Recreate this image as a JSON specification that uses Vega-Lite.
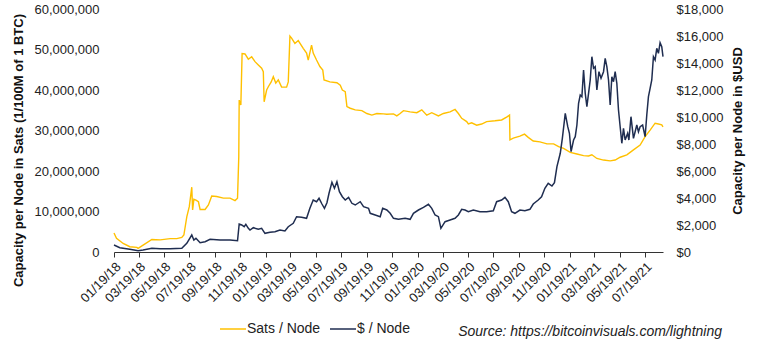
{
  "$schema": "https://vega.github.io/schema/vega-lite/v6.json",
  "width": 549,
  "height": 243,
  "autosize": {"type": "none"},
  "padding": {"left": 114, "top": 9, "right": 97, "bottom": 97},
  "background": "white",
  "config": {
    "font": "Liberation Sans",
    "view": {"stroke": null},
    "axis": {"grid": false, "labelColor": "#222222", "titleColor": "#111111", "labelFont": "Liberation Sans", "titleFont": "Liberation Sans"}
  },
  "title": {
    "text": "Source: https://bitcoinvisuals.com/lightning",
    "orient": "bottom",
    "anchor": "end",
    "frame": "group",
    "dx": 59,
    "offset": -11,
    "fontSize": 14,
    "fontStyle": "italic",
    "fontWeight": "normal",
    "color": "#222222",
    "font": "Liberation Sans"
  },
  "datasets": {
    "sats": [
      {"date": "2018-01-19", "sats": 4700000},
      {"date": "2018-01-25", "sats": 3400000},
      {"date": "2018-02-10", "sats": 2100000},
      {"date": "2018-02-26", "sats": 1300000},
      {"date": "2018-03-15", "sats": 1150000},
      {"date": "2018-03-18", "sats": 900000},
      {"date": "2018-03-30", "sats": 1700000},
      {"date": "2018-04-20", "sats": 3100000},
      {"date": "2018-05-10", "sats": 3000000},
      {"date": "2018-06-03", "sats": 3300000},
      {"date": "2018-06-19", "sats": 3300000},
      {"date": "2018-07-01", "sats": 3600000},
      {"date": "2018-07-06", "sats": 4200000},
      {"date": "2018-07-13", "sats": 8700000},
      {"date": "2018-07-19", "sats": 11200000},
      {"date": "2018-07-25", "sats": 16000000},
      {"date": "2018-07-27", "sats": 10400000},
      {"date": "2018-07-30", "sats": 13000000},
      {"date": "2018-08-04", "sats": 12800000},
      {"date": "2018-08-10", "sats": 12400000},
      {"date": "2018-08-14", "sats": 10500000},
      {"date": "2018-08-26", "sats": 10500000},
      {"date": "2018-09-03", "sats": 11600000},
      {"date": "2018-09-11", "sats": 13800000},
      {"date": "2018-09-23", "sats": 13700000},
      {"date": "2018-10-09", "sats": 13300000},
      {"date": "2018-10-25", "sats": 13300000},
      {"date": "2018-11-06", "sats": 12700000},
      {"date": "2018-11-12", "sats": 13300000},
      {"date": "2018-11-15", "sats": 23500000},
      {"date": "2018-11-16", "sats": 37500000},
      {"date": "2018-11-20", "sats": 36300000},
      {"date": "2018-11-23", "sats": 49000000},
      {"date": "2018-11-30", "sats": 48900000},
      {"date": "2018-12-08", "sats": 47600000},
      {"date": "2018-12-16", "sats": 48200000},
      {"date": "2018-12-24", "sats": 47000000},
      {"date": "2019-01-01", "sats": 46200000},
      {"date": "2019-01-09", "sats": 45400000},
      {"date": "2019-01-13", "sats": 44500000},
      {"date": "2019-01-15", "sats": 37100000},
      {"date": "2019-01-21", "sats": 40000000},
      {"date": "2019-01-25", "sats": 40800000},
      {"date": "2019-02-01", "sats": 42000000},
      {"date": "2019-02-06", "sats": 43300000},
      {"date": "2019-02-12", "sats": 41700000},
      {"date": "2019-02-18", "sats": 42500000},
      {"date": "2019-02-26", "sats": 40700000},
      {"date": "2019-03-10", "sats": 40700000},
      {"date": "2019-03-14", "sats": 42000000},
      {"date": "2019-03-18", "sats": 53300000},
      {"date": "2019-03-22", "sats": 52800000},
      {"date": "2019-03-30", "sats": 51500000},
      {"date": "2019-04-07", "sats": 52200000},
      {"date": "2019-04-19", "sats": 50300000},
      {"date": "2019-04-27", "sats": 49100000},
      {"date": "2019-05-01", "sats": 47400000},
      {"date": "2019-05-09", "sats": 51100000},
      {"date": "2019-05-13", "sats": 49100000},
      {"date": "2019-05-21", "sats": 47400000},
      {"date": "2019-05-29", "sats": 45800000},
      {"date": "2019-06-05", "sats": 44900000},
      {"date": "2019-06-08", "sats": 42500000},
      {"date": "2019-06-22", "sats": 42000000},
      {"date": "2019-07-09", "sats": 41800000},
      {"date": "2019-07-17", "sats": 41200000},
      {"date": "2019-07-22", "sats": 40000000},
      {"date": "2019-07-29", "sats": 39600000},
      {"date": "2019-08-02", "sats": 35900000},
      {"date": "2019-08-10", "sats": 35500000},
      {"date": "2019-08-22", "sats": 35100000},
      {"date": "2019-09-07", "sats": 34900000},
      {"date": "2019-09-19", "sats": 34200000},
      {"date": "2019-10-01", "sats": 33800000},
      {"date": "2019-10-13", "sats": 34200000},
      {"date": "2019-10-29", "sats": 34100000},
      {"date": "2019-11-06", "sats": 34000000},
      {"date": "2019-11-22", "sats": 34100000},
      {"date": "2019-11-30", "sats": 33600000},
      {"date": "2019-12-08", "sats": 34200000},
      {"date": "2019-12-16", "sats": 34900000},
      {"date": "2020-01-01", "sats": 34600000},
      {"date": "2020-01-17", "sats": 34400000},
      {"date": "2020-01-29", "sats": 35100000},
      {"date": "2020-02-10", "sats": 33800000},
      {"date": "2020-02-22", "sats": 34400000},
      {"date": "2020-03-09", "sats": 33600000},
      {"date": "2020-03-21", "sats": 34200000},
      {"date": "2020-04-06", "sats": 34600000},
      {"date": "2020-04-18", "sats": 35200000},
      {"date": "2020-04-26", "sats": 34200000},
      {"date": "2020-05-04", "sats": 33000000},
      {"date": "2020-05-16", "sats": 32200000},
      {"date": "2020-05-20", "sats": 31600000},
      {"date": "2020-05-28", "sats": 31900000},
      {"date": "2020-06-09", "sats": 31300000},
      {"date": "2020-06-21", "sats": 31600000},
      {"date": "2020-07-03", "sats": 32200000},
      {"date": "2020-07-23", "sats": 32400000},
      {"date": "2020-08-08", "sats": 32600000},
      {"date": "2020-08-20", "sats": 33300000},
      {"date": "2020-08-27", "sats": 33800000},
      {"date": "2020-08-28", "sats": 27700000},
      {"date": "2020-09-05", "sats": 28100000},
      {"date": "2020-09-21", "sats": 28600000},
      {"date": "2020-10-02", "sats": 29100000},
      {"date": "2020-10-11", "sats": 28300000},
      {"date": "2020-10-23", "sats": 27400000},
      {"date": "2020-11-08", "sats": 27200000},
      {"date": "2020-11-25", "sats": 26700000},
      {"date": "2020-12-11", "sats": 26700000},
      {"date": "2020-12-23", "sats": 26000000},
      {"date": "2021-01-04", "sats": 25600000},
      {"date": "2021-01-20", "sats": 24600000},
      {"date": "2021-02-05", "sats": 24200000},
      {"date": "2021-02-21", "sats": 23800000},
      {"date": "2021-03-05", "sats": 23700000},
      {"date": "2021-03-13", "sats": 24000000},
      {"date": "2021-03-25", "sats": 23100000},
      {"date": "2021-04-10", "sats": 22700000},
      {"date": "2021-04-26", "sats": 22500000},
      {"date": "2021-05-08", "sats": 22700000},
      {"date": "2021-05-20", "sats": 23400000},
      {"date": "2021-06-05", "sats": 24000000},
      {"date": "2021-06-21", "sats": 25200000},
      {"date": "2021-07-07", "sats": 26400000},
      {"date": "2021-07-19", "sats": 28500000},
      {"date": "2021-07-31", "sats": 30100000},
      {"date": "2021-08-12", "sats": 31800000},
      {"date": "2021-08-20", "sats": 31600000},
      {"date": "2021-08-28", "sats": 31400000},
      {"date": "2021-08-31", "sats": 30900000}
    ],
    "usd": [
      {"date": "2018-01-19", "usd": 519},
      {"date": "2018-02-02", "usd": 319},
      {"date": "2018-02-26", "usd": 200},
      {"date": "2018-03-18", "usd": 96},
      {"date": "2018-03-30", "usd": 148},
      {"date": "2018-04-20", "usd": 274},
      {"date": "2018-05-10", "usd": 244},
      {"date": "2018-06-03", "usd": 244},
      {"date": "2018-07-01", "usd": 274},
      {"date": "2018-07-13", "usd": 644},
      {"date": "2018-07-25", "usd": 1259},
      {"date": "2018-07-30", "usd": 889},
      {"date": "2018-08-04", "usd": 1015},
      {"date": "2018-08-14", "usd": 689},
      {"date": "2018-08-26", "usd": 763},
      {"date": "2018-09-07", "usd": 941},
      {"date": "2018-10-01", "usd": 889},
      {"date": "2018-10-25", "usd": 889},
      {"date": "2018-11-12", "usd": 837},
      {"date": "2018-11-16", "usd": 2074},
      {"date": "2018-11-22", "usd": 2000},
      {"date": "2018-11-28", "usd": 1874},
      {"date": "2018-12-02", "usd": 2052},
      {"date": "2018-12-08", "usd": 1755},
      {"date": "2018-12-12", "usd": 1630},
      {"date": "2018-12-20", "usd": 1800},
      {"date": "2019-01-01", "usd": 1681},
      {"date": "2019-01-09", "usd": 1755},
      {"date": "2019-01-17", "usd": 1385},
      {"date": "2019-01-29", "usd": 1459},
      {"date": "2019-02-10", "usd": 1504},
      {"date": "2019-02-22", "usd": 1630},
      {"date": "2019-03-06", "usd": 1556},
      {"date": "2019-03-14", "usd": 1874},
      {"date": "2019-03-26", "usd": 2126},
      {"date": "2019-04-03", "usd": 2615},
      {"date": "2019-04-15", "usd": 2570},
      {"date": "2019-04-27", "usd": 2496},
      {"date": "2019-05-05", "usd": 3237},
      {"date": "2019-05-13", "usd": 3852},
      {"date": "2019-05-21", "usd": 3726},
      {"date": "2019-05-27", "usd": 3978},
      {"date": "2019-06-03", "usd": 3555},
      {"date": "2019-06-09", "usd": 3237},
      {"date": "2019-06-15", "usd": 3652},
      {"date": "2019-06-20", "usd": 4348},
      {"date": "2019-06-27", "usd": 5163},
      {"date": "2019-07-03", "usd": 4719},
      {"date": "2019-07-09", "usd": 5207},
      {"date": "2019-07-15", "usd": 4467},
      {"date": "2019-07-22", "usd": 4096},
      {"date": "2019-07-29", "usd": 3852},
      {"date": "2019-08-06", "usd": 4052},
      {"date": "2019-08-14", "usd": 3607},
      {"date": "2019-08-22", "usd": 3481},
      {"date": "2019-09-03", "usd": 3726},
      {"date": "2019-09-11", "usd": 3355},
      {"date": "2019-09-23", "usd": 3237},
      {"date": "2019-09-27", "usd": 2867},
      {"date": "2019-10-09", "usd": 2741},
      {"date": "2019-10-21", "usd": 2615},
      {"date": "2019-10-27", "usd": 3237},
      {"date": "2019-11-06", "usd": 3111},
      {"date": "2019-11-14", "usd": 2867},
      {"date": "2019-11-22", "usd": 2496},
      {"date": "2019-12-04", "usd": 2422},
      {"date": "2019-12-20", "usd": 2496},
      {"date": "2020-01-01", "usd": 2422},
      {"date": "2020-01-09", "usd": 2867},
      {"date": "2020-01-21", "usd": 3111},
      {"date": "2020-02-02", "usd": 3311},
      {"date": "2020-02-14", "usd": 3533},
      {"date": "2020-02-22", "usd": 3237},
      {"date": "2020-03-01", "usd": 2741},
      {"date": "2020-03-09", "usd": 2615},
      {"date": "2020-03-15", "usd": 1755},
      {"date": "2020-03-25", "usd": 2244},
      {"date": "2020-04-06", "usd": 2370},
      {"date": "2020-04-18", "usd": 2496},
      {"date": "2020-04-26", "usd": 2741},
      {"date": "2020-05-04", "usd": 3163},
      {"date": "2020-05-12", "usd": 3111},
      {"date": "2020-05-20", "usd": 2985},
      {"date": "2020-06-01", "usd": 3111},
      {"date": "2020-06-17", "usd": 2985},
      {"date": "2020-07-03", "usd": 2985},
      {"date": "2020-07-19", "usd": 3059},
      {"date": "2020-07-27", "usd": 3726},
      {"date": "2020-08-08", "usd": 3852},
      {"date": "2020-08-16", "usd": 4052},
      {"date": "2020-08-24", "usd": 3726},
      {"date": "2020-09-01", "usd": 2985},
      {"date": "2020-09-09", "usd": 2867},
      {"date": "2020-09-21", "usd": 3111},
      {"date": "2020-10-03", "usd": 3059},
      {"date": "2020-10-15", "usd": 3163},
      {"date": "2020-10-23", "usd": 3555},
      {"date": "2020-11-04", "usd": 3852},
      {"date": "2020-11-12", "usd": 4096},
      {"date": "2020-11-20", "usd": 4719},
      {"date": "2020-11-28", "usd": 5089},
      {"date": "2020-12-07", "usd": 4889},
      {"date": "2020-12-13", "usd": 5133},
      {"date": "2020-12-19", "usd": 6319},
      {"date": "2020-12-27", "usd": 7311},
      {"date": "2021-01-01", "usd": 8422},
      {"date": "2021-01-08", "usd": 10274},
      {"date": "2021-01-14", "usd": 9281},
      {"date": "2021-01-18", "usd": 8793},
      {"date": "2021-01-22", "usd": 7430},
      {"date": "2021-01-28", "usd": 8296},
      {"date": "2021-02-01", "usd": 8541},
      {"date": "2021-02-05", "usd": 9407},
      {"date": "2021-02-09", "usd": 11015},
      {"date": "2021-02-13", "usd": 11630},
      {"date": "2021-02-17", "usd": 11504},
      {"date": "2021-02-21", "usd": 13481},
      {"date": "2021-02-25", "usd": 11756},
      {"date": "2021-03-01", "usd": 10763},
      {"date": "2021-03-05", "usd": 11756},
      {"date": "2021-03-09", "usd": 12741},
      {"date": "2021-03-13", "usd": 14467},
      {"date": "2021-03-17", "usd": 13607},
      {"date": "2021-03-21", "usd": 13726},
      {"date": "2021-03-25", "usd": 12000},
      {"date": "2021-03-30", "usd": 13356},
      {"date": "2021-04-04", "usd": 12866},
      {"date": "2021-04-10", "usd": 13356},
      {"date": "2021-04-14", "usd": 14348},
      {"date": "2021-04-18", "usd": 13726},
      {"date": "2021-04-22", "usd": 12741},
      {"date": "2021-04-26", "usd": 10889},
      {"date": "2021-04-30", "usd": 12985},
      {"date": "2021-05-04", "usd": 12615},
      {"date": "2021-05-08", "usd": 13356},
      {"date": "2021-05-12", "usd": 12496},
      {"date": "2021-05-16", "usd": 10518},
      {"date": "2021-05-20", "usd": 9281},
      {"date": "2021-05-24", "usd": 8052},
      {"date": "2021-05-28", "usd": 9163},
      {"date": "2021-06-01", "usd": 8296},
      {"date": "2021-06-07", "usd": 8793},
      {"date": "2021-06-10", "usd": 8296},
      {"date": "2021-06-15", "usd": 10022},
      {"date": "2021-06-21", "usd": 8422},
      {"date": "2021-06-25", "usd": 8911},
      {"date": "2021-06-29", "usd": 9407},
      {"date": "2021-07-03", "usd": 8911},
      {"date": "2021-07-07", "usd": 9281},
      {"date": "2021-07-13", "usd": 9407},
      {"date": "2021-07-19", "usd": 8541},
      {"date": "2021-07-23", "usd": 10148},
      {"date": "2021-07-27", "usd": 11504},
      {"date": "2021-07-31", "usd": 12126},
      {"date": "2021-08-04", "usd": 12741},
      {"date": "2021-08-08", "usd": 14467},
      {"date": "2021-08-12", "usd": 14222},
      {"date": "2021-08-16", "usd": 15089},
      {"date": "2021-08-20", "usd": 14719},
      {"date": "2021-08-24", "usd": 15504},
      {"date": "2021-08-28", "usd": 15207},
      {"date": "2021-08-31", "usd": 14467}
    ]
  },
  "encoding": {
    "x": {
      "field": "date",
      "type": "temporal",
      "scale": {
        "type": "utc",
        "domain": [
          {"year": 2018, "month": 1, "date": 19, "utc": true},
          {"year": 2021, "month": 8, "date": 31, "utc": true}
        ]
      },
      "axis": {
        "title": null,
        "format": "%m/%d/%y",
        "labelAngle": -45,
        "labelFontSize": 13,
        "labelPadding": 3,
        "tickSize": 5,
        "tickColor": "#333333",
        "domainColor": "#333333",
        "labelOverlap": false,
        "values": [
          {"year": 2018, "month": 1, "date": 19, "utc": true},
          {"year": 2018, "month": 3, "date": 19, "utc": true},
          {"year": 2018, "month": 5, "date": 19, "utc": true},
          {"year": 2018, "month": 7, "date": 19, "utc": true},
          {"year": 2018, "month": 9, "date": 19, "utc": true},
          {"year": 2018, "month": 11, "date": 19, "utc": true},
          {"year": 2019, "month": 1, "date": 19, "utc": true},
          {"year": 2019, "month": 3, "date": 19, "utc": true},
          {"year": 2019, "month": 5, "date": 19, "utc": true},
          {"year": 2019, "month": 7, "date": 19, "utc": true},
          {"year": 2019, "month": 9, "date": 19, "utc": true},
          {"year": 2019, "month": 11, "date": 19, "utc": true},
          {"year": 2020, "month": 1, "date": 19, "utc": true},
          {"year": 2020, "month": 3, "date": 19, "utc": true},
          {"year": 2020, "month": 5, "date": 19, "utc": true},
          {"year": 2020, "month": 7, "date": 19, "utc": true},
          {"year": 2020, "month": 9, "date": 19, "utc": true},
          {"year": 2020, "month": 11, "date": 19, "utc": true},
          {"year": 2021, "month": 1, "date": 19, "utc": true},
          {"year": 2021, "month": 3, "date": 19, "utc": true},
          {"year": 2021, "month": 5, "date": 19, "utc": true},
          {"year": 2021, "month": 7, "date": 19, "utc": true}
        ]
      }
    }
  },
  "layer": [
    {
      "data": {"name": "sats"},
      "mark": {"type": "line", "strokeWidth": 1.4},
      "encoding": {
        "y": {
          "field": "sats",
          "type": "quantitative",
          "scale": {"domain": [0, 60000000], "nice": false},
          "axis": {
            "title": "Capacity per Node in Sats (1/100M of 1 BTC)",
            "titleFontSize": 13,
            "titleFontWeight": "bold",
            "titleAngle": -90,
            "titleBaseline": "middle",
            "titleAlign": "center",
            "titleX": -96,
            "titleY": 141,
            "format": ",.0f",
            "values": [0, 10000000, 20000000, 30000000, 40000000, 50000000, 60000000],
            "labelFontSize": 13,
            "labelPadding": 15,
            "ticks": false,
            "domain": false
          }
        },
        "color": {
          "datum": "Sats / Node",
          "type": "nominal",
          "scale": {"domain": ["Sats / Node", "$ / Node"], "range": ["#FFC000", "#1F2D50"]},
          "legend": {
            "title": null,
            "orient": "none",
            "direction": "horizontal",
            "legendX": 105,
            "legendY": 306,
            "symbolType": "stroke",
            "symbolSize": 676,
            "symbolStrokeWidth": 1.5,
            "labelFontSize": 14,
            "labelColor": "#222222",
            "labelOffset": 0,
            "columnPadding": 6,
            "padding": 0
          }
        }
      }
    },
    {
      "data": {"name": "usd"},
      "mark": {"type": "line", "strokeWidth": 1.5},
      "encoding": {
        "y": {
          "field": "usd",
          "type": "quantitative",
          "scale": {"domain": [0, 18000], "nice": false},
          "axis": {
            "orient": "right",
            "title": "Capacity per Node in $USD",
            "titleFontSize": 13,
            "titleFontWeight": "bold",
            "titleAngle": -90,
            "titleBaseline": "middle",
            "titleAlign": "center",
            "titleX": 74,
            "titleY": 121.5,
            "format": "$,.0f",
            "values": [0, 2000, 4000, 6000, 8000, 10000, 12000, 14000, 16000, 18000],
            "labelFontSize": 13,
            "labelPadding": 13,
            "ticks": false,
            "domain": false
          }
        },
        "color": {"datum": "$ / Node", "type": "nominal"}
      }
    }
  ],
  "resolve": {"scale": {"y": "independent"}}
}
